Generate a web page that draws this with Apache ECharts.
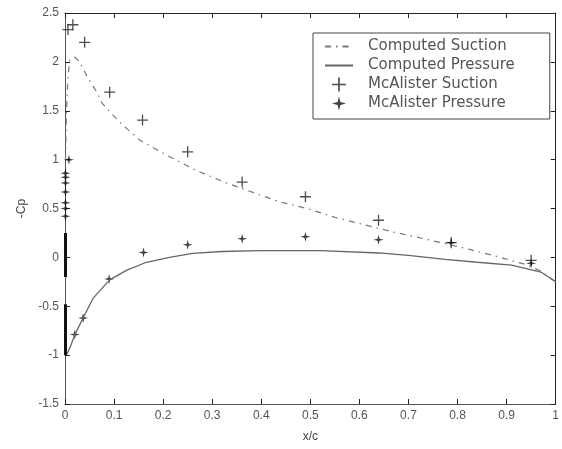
<!DOCTYPE html>
<html><head><meta charset="utf-8">
<script src="https://cdn.jsdelivr.net/npm/echarts@6/dist/echarts.min.js"></script>
<style>html,body{margin:0;padding:0;background:#fff}#c{width:562px;height:449px}</style>
</head><body><div id="c"></div>
<script>
// Computed suction curve (x/c, -Cp)
const suctionX = [0.001,0.003,0.006,0.010,0.020,0.030,0.045,0.065,0.075,0.110,0.152,0.213,0.267,0.330,0.380,0.436,0.493,0.550,0.605,0.660,0.714,0.767,0.826,0.880,0.937,0.970,1.000];
const suctionY = [1.00,1.50,1.85,2.02,2.05,2.00,1.85,1.69,1.58,1.39,1.20,1.03,0.89,0.76,0.67,0.57,0.50,0.41,0.34,0.27,0.21,0.15,0.08,0.01,-0.07,-0.14,-0.25];
// Computed pressure curve
const pressureX = [0.002,0.006,0.012,0.020,0.037,0.057,0.091,0.126,0.166,0.213,0.260,0.320,0.400,0.520,0.640,0.700,0.775,0.840,0.910,0.970,1.000];
const pressureY = [-1.00,-0.97,-0.90,-0.79,-0.62,-0.42,-0.23,-0.13,-0.05,0.00,0.04,0.06,0.07,0.07,0.045,0.02,-0.02,-0.05,-0.08,-0.15,-0.25];
// McAlister suction measurements
const mcSuctionX = [0.006,0.016,0.040,0.091,0.158,0.250,0.361,0.490,0.639,0.787,0.950];
const mcSuctionY = [2.33,2.38,2.20,1.69,1.405,1.08,0.77,0.62,0.38,0.15,-0.03];
// McAlister pressure measurements
const mcPressureX = [0.008,0.001,0.001,0.001,0.001,0.001,0.001,0.001,0.020,0.037,0.090,0.160,0.250,0.361,0.490,0.639,0.787,0.950];
const mcPressureY = [1.00,0.86,0.82,0.76,0.67,0.56,0.50,0.42,-0.79,-0.62,-0.22,0.05,0.13,0.19,0.21,0.18,0.15,-0.06];
// Dense leading-edge pressure readings drawn as thick segments
const leX = [0.001,0.001,null,0.001,0.001];
const leY = [0.25,-0.20,null,-0.48,-1.00];
const xTicks = {min:0,max:1,interval:0.1};
const yTicks = {min:-1.5,max:2.5,interval:0.5};

const zip = (a,b) => a.map((v,i)=> v===null ? '-' : [v,b[i]]);
const plusSym = 'path://M4.4,0h1.2v10h-1.2z M0,4.4h10v1.2h-10z';
const starSym = 'path://M5,0L6,4L10,5L6,6L5,10L4,6L0,5L4,4Z';
const font = 'Liberation Sans, Arial, sans-serif';
const legFont = 'DejaVu Sans, sans-serif';
const axisCol = '#555';
const chart = echarts.init(document.getElementById('c'), null, {renderer:'canvas'});
const fmt = v => (Math.abs(v) < 1e-9 ? '0' : String(+v.toFixed(2)));
chart.setOption({
  animation:false,
  backgroundColor:'#fff',
  grid:{left:65,right:4,top:13,bottom:45},
  legend:{
    orient:'vertical', left:313, top:33,
    borderColor:'#444', borderWidth:1, padding:[6,35,8,11], itemGap:4,
    itemWidth:28, itemHeight:14,
    textStyle:{fontFamily:legFont,fontSize:15,color:'#555',lineHeight:15,padding:[0,0,0,10]},
    data:[
      {name:'Computed Suction',itemStyle:{opacity:0}},
      {name:'Computed Pressure',itemStyle:{opacity:0}},
      {name:'McAlister Suction'},
      {name:'McAlister Pressure'}
    ]
  },
  xAxis:[
    {type:'value',min:xTicks.min,max:xTicks.max,interval:xTicks.interval,
     name:'x/c',nameLocation:'middle',nameGap:27,
     nameTextStyle:{fontFamily:font,fontSize:12,color:'#444'},
     axisLine:{onZero:false,lineStyle:{color:axisCol,width:1}},
     axisTick:{inside:true,length:5,lineStyle:{color:'#222'}},
     axisLabel:{fontFamily:font,fontSize:12,color:'#555',margin:6,formatter:fmt},
     splitLine:{show:false}},
    {type:'value',position:'top',min:xTicks.min,max:xTicks.max,interval:xTicks.interval,
     axisLine:{onZero:false,lineStyle:{color:'#222',width:1}},
     axisTick:{inside:true,length:5,lineStyle:{color:'#222'}},
     axisLabel:{show:false},splitLine:{show:false}}
  ],
  yAxis:[
    {type:'value',min:yTicks.min,max:yTicks.max,interval:yTicks.interval,
     name:'-Cp',nameLocation:'middle',nameGap:33,nameRotate:90,
     nameTextStyle:{fontFamily:font,fontSize:12,color:'#444'},
     axisLine:{onZero:false,lineStyle:{color:axisCol,width:1}},
     axisTick:{inside:true,length:5,lineStyle:{color:'#222'}},
     axisLabel:{fontFamily:font,fontSize:12,color:'#555',margin:6,formatter:fmt},
     splitLine:{show:false}},
    {type:'value',position:'right',min:yTicks.min,max:yTicks.max,interval:yTicks.interval,
     axisLine:{onZero:false,lineStyle:{color:'#222',width:1}},
     axisTick:{inside:true,length:5,lineStyle:{color:'#222'}},
     axisLabel:{show:false},splitLine:{show:false}}
  ],
  series:[
    {name:'Computed Suction',type:'line',showSymbol:false,symbol:'none',smooth:false,
     data:zip(suctionX,suctionY),
     lineStyle:{color:'#777',width:1.2,type:[6,5,1.5,5]},itemStyle:{color:'#777'}},
    {name:'Computed Pressure',type:'line',showSymbol:false,symbol:'none',
     data:zip(pressureX,pressureY),
     lineStyle:{color:'#666',width:1.3},itemStyle:{color:'#666'}},
    {name:'leading edge',type:'line',showSymbol:false,symbol:'none',connectNulls:false,
     data:zip(leX,leY),lineStyle:{color:'#111',width:3}},
    {name:'McAlister Suction',type:'scatter',symbol:plusSym,symbolSize:11,
     data:zip(mcSuctionX,mcSuctionY),itemStyle:{color:'#222'}},
    {name:'McAlister Pressure',type:'scatter',symbol:starSym,symbolSize:10,
     data:zip(mcPressureX,mcPressureY),itemStyle:{color:'#111'}}
  ]
});
</script></body></html>
